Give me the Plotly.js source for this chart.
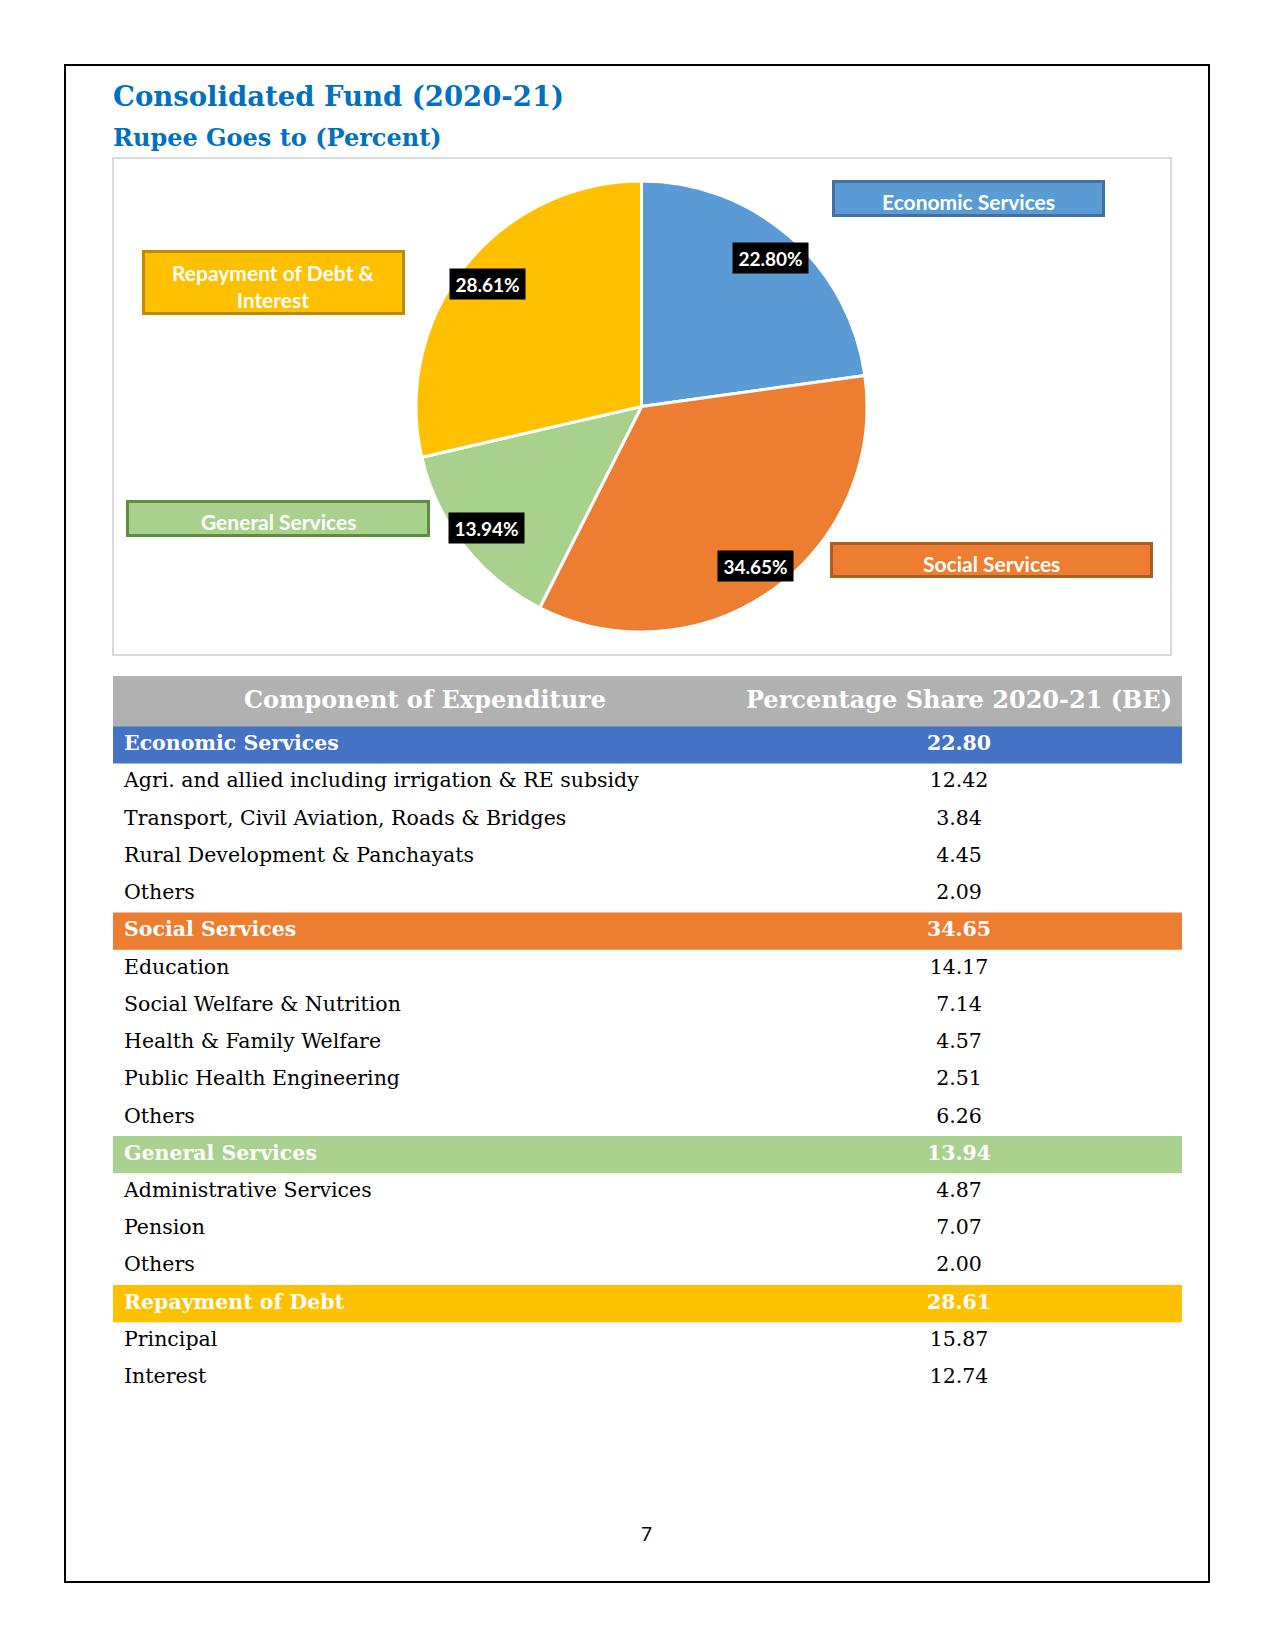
<!DOCTYPE html>
<html>
<head>
<meta charset="utf-8">
<script src="https://cdn.plot.ly/plotly-3.0.1.min.js"></script>
<style>html,body{margin:0;padding:0;background:#fff;}#chart{width:1275px;height:1650px;}</style>
</head>
<body>
<div id="chart"></div>
<script>
// ---------- DATA ----------
const pieLabels = ['Economic Services', 'Social Services', 'General Services', 'Repayment of Debt & Interest'];
const pieValues = [22.80, 34.65, 13.94, 28.61];
const pieColors = ['#5B9BD5', '#ED7D31', '#A9D18E', '#FFC000'];
const calloutBorders = ['#41719C', '#AE5A21', '#5E8E3E', '#BC8C00'];

const tableHeader = ['Component of Expenditure', 'Percentage Share 2020-21 (BE)'];
const groupNames = ['Economic Services', 'Social Services', 'General Services', 'Repayment of Debt'];
const groupValues = [22.80, 34.65, 13.94, 28.61];
const groupColors = ['#4472C4', '#ED7D31', '#A9D18E', '#FFC000'];
const econItems = ['Agri. and allied including irrigation & RE subsidy', 'Transport, Civil Aviation, Roads & Bridges', 'Rural Development & Panchayats', 'Others'];
const econValues = [12.42, 3.84, 4.45, 2.09];
const socialItems = ['Education', 'Social Welfare & Nutrition', 'Health & Family Welfare', 'Public Health Engineering', 'Others'];
const socialValues = [14.17, 7.14, 4.57, 2.51, 6.26];
const generalItems = ['Administrative Services', 'Pension', 'Others'];
const generalValues = [4.87, 7.07, 2.00];
const debtItems = ['Principal', 'Interest'];
const debtValues = [15.87, 12.74];

const titleText = 'Consolidated Fund (2020-21)';
const subtitleText = 'Rupee Goes to (Percent)';
const pageNumber = '7';

// ---------- LAYOUT HELPERS ----------
const W = 1275, H = 1650;
const px = x => x / W;
const py = y => 1 - y / H;
const SERIF = 'DejaVu Serif, serif';
const SANS = 'Lato, sans-serif';

// Pie geometry (page pixels)
const pieCx = 641.5, pieCy = 406.5, pieR = 224.5, pieDomainR = 225.5;

// Table geometry (page pixels)
const tblLeft = 113, tblRight = 1182, tblTop = 676, tblBottom = 1400;
const firstRowCenter = 745, rowStep = 37.24, headerH = 51;
const labelX = 11, valueX = 846;   // x within table (pixels from left edge)

// ---------- TABLE ROWS ----------
const groupsItems = [econItems, socialItems, generalItems, debtItems];
const groupsVals = [econValues, socialValues, generalValues, debtValues];
const rowLabel = [], rowValue = [], rowColor = [], bandRows = [], bandColors = [];
let r = 0;
groupNames.forEach((g, i) => {
  rowLabel.push('<b>' + g + '</b>');
  rowValue.push('<b>' + groupValues[i].toFixed(2) + '</b>');
  rowColor.push('#FFFFFF');
  bandRows.push(r);
  bandColors.push(groupColors[i]);
  r++;
  groupsItems[i].forEach((it, j) => {
    rowLabel.push(it);
    rowValue.push(groupsVals[i][j].toFixed(2));
    rowColor.push('#000000');
    r++;
  });
});
const rowIdx = rowLabel.map((_, i) => i);
const headerRow = (tblTop + headerH / 2 - firstRowCenter) / rowStep;
const headerWidth = headerH / rowStep;
const yTop = (tblTop - firstRowCenter) / rowStep;
const yBottom = (tblBottom - firstRowCenter) / rowStep;
const tblWidth = tblRight - tblLeft;

const traces = [
  {
    type: 'pie',
    labels: pieLabels,
    values: pieValues,
    sort: false,
    direction: 'clockwise',
    rotation: 0,
    marker: { colors: pieColors, line: { color: '#FFFFFF', width: 3 } },
    textinfo: 'none',
    hoverinfo: 'none',
    showlegend: false,
    domain: { x: [px(pieCx - pieDomainR), px(pieCx + pieDomainR)], y: [py(pieCy + pieDomainR), py(pieCy - pieDomainR)] }
  },
  // header band
  {
    type: 'bar', orientation: 'h', x: [tblWidth], y: [headerRow], base: [0], width: [headerWidth],
    marker: { color: '#B1B1B1', line: { width: 0 } }, hoverinfo: 'none', showlegend: false
  },
  // group bands
  {
    type: 'bar', orientation: 'h', x: bandRows.map(() => tblWidth), y: bandRows, base: bandRows.map(() => 0),
    width: bandRows.map(() => 1), marker: { color: bandColors, line: { width: 0 } }, hoverinfo: 'none', showlegend: false
  },
  // header text
  {
    type: 'scatter', mode: 'text', x: [312, valueX],
    y: [headerRow, headerRow], text: tableHeader.map(h => '<b>' + h + '</b>'),
    textposition: 'middle center', cliponaxis: false, hoverinfo: 'none', showlegend: false,
    textfont: { family: SERIF, size: 24, color: '#FFFFFF' }
  },
  // label column
  {
    type: 'scatter', mode: 'text', x: rowIdx.map(() => labelX), y: rowIdx, text: rowLabel,
    textposition: 'middle right', cliponaxis: false, hoverinfo: 'none', showlegend: false,
    textfont: { family: SERIF, size: 20.5, color: rowColor }
  },
  // value column
  {
    type: 'scatter', mode: 'text', x: rowIdx.map(() => valueX), y: rowIdx, text: rowValue,
    textposition: 'middle center', cliponaxis: false, hoverinfo: 'none', showlegend: false,
    textfont: { family: SERIF, size: 20.5, color: rowColor }
  }
];

// ---------- ANNOTATIONS ----------
const annotations = [];
annotations.push({
  text: '<b>' + titleText + '</b>', xref: 'paper', yref: 'paper', x: px(111), y: py(96),
  xanchor: 'left', yanchor: 'middle', showarrow: false,
  font: { family: SERIF, size: 27.5, color: '#0070C0' }
});
annotations.push({
  text: '<b>' + subtitleText + '</b>', xref: 'paper', yref: 'paper', x: px(111), y: py(138),
  xanchor: 'left', yanchor: 'middle', showarrow: false,
  font: { family: SERIF, size: 24, color: '#0070C0' }
});
annotations.push({
  text: pageNumber, xref: 'paper', yref: 'paper', x: px(646), y: py(1533),
  xanchor: 'center', yanchor: 'middle', showarrow: false,
  font: { family: SANS, size: 19, color: '#000000' }
});

// Percentage data labels, placed at each slice's mid-angle
const total = pieValues.reduce((a, b) => a + b, 0);
let cum = 0;
pieValues.forEach((v, i) => {
  const mid = (cum + v / 2) / total * 2 * Math.PI;
  cum += v;
  const rr = pieR * 0.875;
  const x = pieCx + rr * Math.sin(mid);
  const y = pieCy - rr * Math.cos(mid);
  annotations.push({
    text: '<b>' + v.toFixed(2) + '%</b>', xref: 'paper', yref: 'paper', x: px(x), y: py(y),
    xanchor: 'center', yanchor: 'middle', showarrow: false,
    bgcolor: '#000000', borderpad: 0, width: 75, height: 30,
    font: { family: SANS, size: 19, color: '#FFFFFF' }
  });
});

// Category callout boxes (rectangles + centred text)
const calloutBoxes = [
  { x0: 832, x1: 1105, y0: 180, y1: 217 },
  { x0: 830, x1: 1153, y0: 542, y1: 578 },
  { x0: 126, x1: 430, y0: 500, y1: 537 },
  { x0: 142, x1: 405, y0: 250, y1: 315 }
];
const shapes = [
  { type: 'rect', xref: 'paper', yref: 'paper', x0: px(65), x1: px(1209), y0: py(1582), y1: py(65),
    line: { color: '#000000', width: 2 }, fillcolor: 'rgba(0,0,0,0)' },
  { type: 'rect', xref: 'paper', yref: 'paper', x0: px(113), x1: px(1171), y0: py(655), y1: py(158),
    line: { color: '#D9D9D9', width: 2 }, fillcolor: 'rgba(0,0,0,0)' }
];
pieLabels.forEach((lab, i) => {
  const b = calloutBoxes[i];
  shapes.push({
    type: 'rect', xref: 'paper', yref: 'paper', x0: px(b.x0 + 1.5), x1: px(b.x1 - 1.5), y0: py(b.y1 - 1.5), y1: py(b.y0 + 1.5),
    line: { color: calloutBorders[i], width: 3 }, fillcolor: pieColors[i]
  });
  const txt = lab === 'Repayment of Debt & Interest' ? 'Repayment of Debt &<br>Interest' : lab;
  annotations.push({
    text: '<b>' + txt + '</b>', xref: 'paper', yref: 'paper',
    x: px((b.x0 + b.x1) / 2), y: py((b.y0 + b.y1) / 2 + 3),
    xanchor: 'center', yanchor: 'middle', showarrow: false,
    font: { family: SANS, size: 21, color: '#FFFFFF' }
  });
});

const layout = {
  width: W, height: H,
  margin: { l: 0, r: 0, t: 0, b: 0 },
  paper_bgcolor: '#FFFFFF', plot_bgcolor: 'rgba(0,0,0,0)',
  showlegend: false,
  barmode: 'overlay',
  xaxis: { domain: [px(tblLeft), px(tblRight)], range: [0, tblWidth], visible: false, fixedrange: true },
  yaxis: { domain: [py(tblBottom), py(tblTop)], range: [yBottom, yTop], visible: false, fixedrange: true },
  annotations: annotations,
  shapes: shapes
};

Plotly.newPlot('chart', traces, layout, { displayModeBar: false, staticPlot: true });
</script>
</body>
</html>
